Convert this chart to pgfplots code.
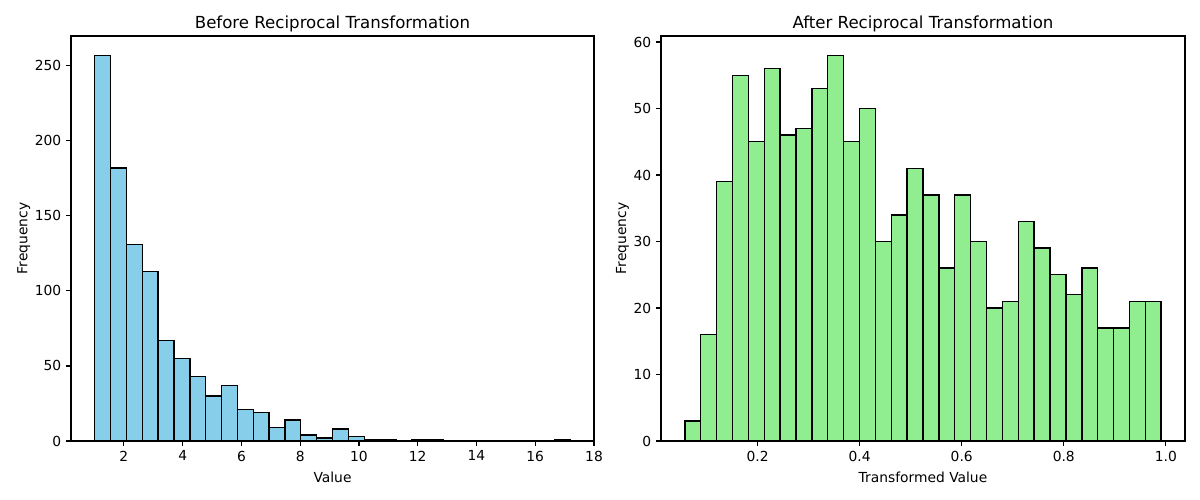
\documentclass[border=0pt]{standalone}
\usepackage{pgfplots}
\pgfplotsset{compat=1.18}
\usepackage{fontspec}
\setmainfont{DejaVu Sans}
\definecolor{skyblue}{HTML}{87CEEB}
\definecolor{lightgreen}{HTML}{90EE90}
\pgfplotsset{
  common/.style={
    scale only axis,
    anchor=south west,
    height=291.6bp,
    ymin=0,
    tick align=outside,
    tick pos=left,
    major tick length=3.5bp,
    every tick/.style={black, line width=0.8bp},
    axis line style={line width=0.8bp},
    /pgf/number format/assume math mode=true,
    tick label style={font=\fontsize{10}{12}\selectfont},
    label style={font=\fontsize{10}{12}\selectfont},
    title style={font=\fontsize{12}{14}\selectfont, yshift=-6.5bp},
    ylabel style={yshift=-3.5bp},
    xlabel style={yshift=-1bp},
    grid=none,
  }
}
\begin{document}
\begin{tikzpicture}
\useasboundingbox (0,0) rectangle (864bp,360bp);
\begin{axis}[common,
  at={(51.12bp,42.48bp)}, width=376.56bp,
  xmin=0.2, xmax=18.0, ymax=269.85,
  xtick={2,4,6,8,10,12,14,16,18},
  ytick={0,50,100,150,200,250},
  title={Before Reciprocal Transformation},
  xlabel={Value}, ylabel={Frequency}]
\addplot[ybar interval, fill=skyblue, draw=black, line width=1bp] coordinates {
(1.009,257) (1.5484,182) (2.0878,131) (2.6272,113) (3.1666,67) (3.706,55)
(4.2454,43) (4.7848,30) (5.3242,37) (5.8636,21) (6.403,19) (6.9424,9)
(7.4818,14) (8.0212,4) (8.5606,2) (9.1,8) (9.6394,3) (10.1788,1)
(10.7182,1) (11.2576,0) (11.797,1) (12.3364,1) (12.8758,0) (13.4152,0)
(13.9546,0) (14.494,0) (15.0334,0) (15.5728,0) (16.1122,0) (16.6516,1)
(17.191,1)
};
\end{axis}
\begin{axis}[common,
  at={(475.92bp,42.48bp)}, width=377.28bp,
  xmin=0.0108, xmax=1.0375, ymax=60.9,
  xtick={0.2,0.4,0.6,0.8,1.0},
  xticklabel style={/pgf/number format/.cd, fixed, fixed zerofill, precision=1},
  ytick={0,10,20,30,40,50,60},
  title={After Reciprocal Transformation},
  xlabel={Transformed Value}, ylabel={Frequency}]
\addplot[ybar interval, fill=lightgreen, draw=black, line width=1bp] coordinates {
(0.0575,3) (0.0886,16) (0.1197,39) (0.1508,55) (0.1819,45) (0.2131,56)
(0.2442,46) (0.2753,47) (0.3064,53) (0.3375,58) (0.3686,45) (0.3997,50)
(0.4308,30) (0.4619,34) (0.4930,41) (0.5242,37) (0.5553,26) (0.5864,37)
(0.6175,30) (0.6486,20) (0.6797,21) (0.7108,33) (0.7419,29) (0.7730,25)
(0.8041,22) (0.8353,26) (0.8664,17) (0.8975,17) (0.9286,21) (0.9597,21)
(0.9908,21)
};
\end{axis}
\end{tikzpicture}
\end{document}
